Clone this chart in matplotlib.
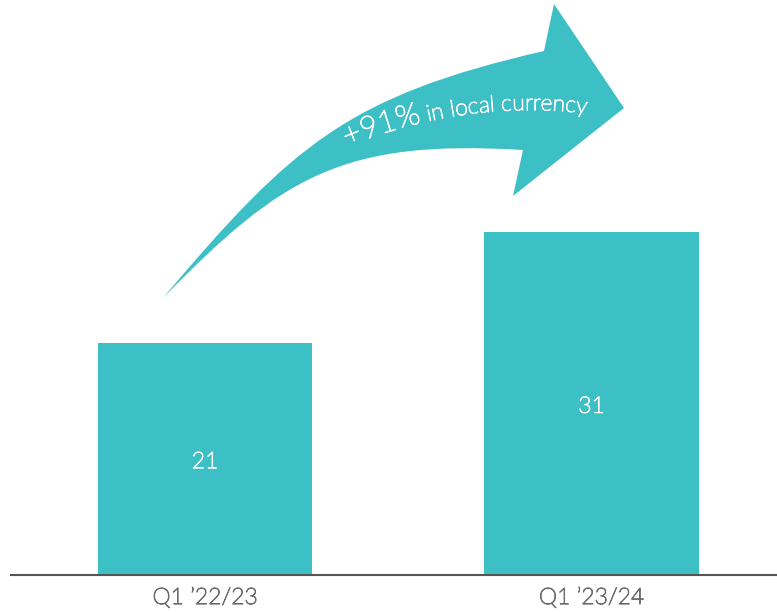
import matplotlib
matplotlib.use("Agg")
import matplotlib.pyplot as plt
import matplotlib.patheffects as pe
import numpy as np
from matplotlib.path import Path
from matplotlib.patches import PathPatch
from matplotlib.font_manager import FontProperties, fontManager

categories = ["Q1 \u201922/23", "Q1 \u201923/24"]
values = [21, 31]
growth_label = "+91%"
growth_note = " in local currency"

TEAL = "#3DBFC6"
GREY = "#6b6b6b"
plt.rcParams["font.family"] = ["Lato", "DejaVu Sans"]

# prefer the Lato Light face when it is on the system
light_file = None
for f in fontManager.ttflist:
    base = f.fname.lower().rsplit("/", 1)[-1]
    if f.name == "Lato" and "light" in base and "italic" not in base:
        light_file = f.fname
        break


def lato(size):
    if light_file:
        return FontProperties(fname=light_file, size=size)
    return FontProperties(family=["Lato", "DejaVu Sans"], size=size)


def thicken(color):
    return [pe.withStroke(linewidth=0.6, foreground=color)]


W, H, DPI = 777, 612, 100
fig = plt.figure(figsize=(W / DPI, H / DPI), dpi=DPI)

# bar axes: baseline 37 px above the bottom edge
ax = fig.add_axes([11 / W, 37 / H, 1 - 11 / W, 575 / H])
x = np.arange(len(categories))
ax.bar(x, values, width=0.554, color=TEAL)
ax.set_xlim(-0.502, 1.480)
ax.set_ylim(0, 52)
for xi, v in zip(x, values):
    ax.text(xi, v / 2 - 0.25, str(v), ha="center", va="center", color="white",
            fontproperties=lato(16.5), path_effects=thicken("white"))
ax.set_xticks(x)
ax.set_xticklabels(categories, fontproperties=lato(16.5), color=GREY)
for lbl in ax.get_xticklabels():
    lbl.set_path_effects(thicken(GREY))
ax.tick_params(axis="x", length=0, pad=8)
ax.set_yticks([])
for s in ["top", "left", "right"]:
    ax.spines[s].set_visible(False)
ax.spines["bottom"].set_color("#555555")
ax.spines["bottom"].set_linewidth(1.5)
ax.patch.set_alpha(0)

# overlay in pixel coordinates for the growth arrow
ov = fig.add_axes([0, 0, 1, 1], zorder=3)
ov.set_xlim(0, W)
ov.set_ylim(H, 0)
ov.axis("off")
ov.patch.set_alpha(0)

verts = [
    (163, 298), (292, 145), (348, 96), (544, 51),   # upper edge
    (554, 4), (624, 108), (513, 196), (523, 150),   # head
    (343, 139), (282, 176), (163, 298),             # lower edge
    (163, 298),
]
codes = [Path.MOVETO, Path.CURVE4, Path.CURVE4, Path.CURVE4,
         Path.LINETO, Path.LINETO, Path.LINETO, Path.LINETO,
         Path.CURVE4, Path.CURVE4, Path.CURVE4, Path.CLOSEPOLY]
ov.add_patch(PathPatch(Path(verts, codes), facecolor=TEAL, edgecolor="none"))

# text set along a curved baseline
p0, pc, p2 = np.array([347, 147]), np.array([468, 97]), np.array([598, 115])
ts = np.linspace(0, 1, 400)
curve = ((1 - ts)[:, None] ** 2 * p0 + 2 * ((1 - ts) * ts)[:, None] * pc
         + (ts ** 2)[:, None] * p2)
seg = np.hypot(*np.diff(curve, axis=0).T)
arclen = np.concatenate([[0], np.cumsum(seg)])

renderer = fig.canvas.get_renderer()
pieces = [(growth_label, 22.5), (growth_note, 16.5)]
dist = 0.0
for chunk, size in pieces:
    fp = lato(size)
    wa, _, _ = renderer.get_text_width_height_descent("aa", fp, ismath=False)
    for ch in chunk:
        if ch == " ":
            w, _, _ = renderer.get_text_width_height_descent("a a", fp, ismath=False)
            w -= wa
        else:
            w, _, _ = renderer.get_text_width_height_descent(ch, fp, ismath=False)
        s = dist + w / 2
        i = min(np.searchsorted(arclen, s), len(curve) - 2)
        px, py = curve[i]
        dx, dy = curve[i + 1] - curve[i]
        ang = -np.degrees(np.arctan2(dy, dx))
        if ch != " ":
            ov.text(px, py, ch, fontproperties=fp, color="white", ha="center",
                    va="baseline", rotation=ang, rotation_mode="anchor",
                    path_effects=thicken("white"))
        dist += w

fig.savefig("out.png", dpi=DPI)
